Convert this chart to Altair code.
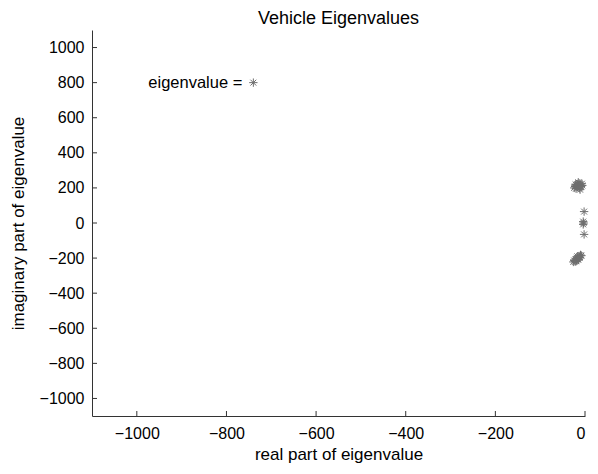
import altair as alt
import pandas as pd

# Eigenvalue data (real, imaginary parts)
re_vals = [
    -24, -22, -20, -19, -17, -16, -14, -13, -12, -10, -9, -7, -6, -15, -21, -11,
    -26, -24, -22, -21, -19, -18, -16, -14, -13, -11, -10, -8, -20, -15, -12, -17,
    -2, -4, -3, -4, -2,
]
im_vals = [
    200, 208, 196, 214, 222, 204, 212, 226, 198, 218, 208, 224, 214, 232, 220, 190,
    -222, -214, -220, -206, -212, -198, -204, -196, -188, -194, -182, -186, -218, -210, -200, -190,
    65, 8, 0, -8, -65,
]

legend_re = [-740]
legend_im = [800]
legend_text = ["eigenvalue ="]

x_ticks = [-1000, -800, -600, -400, -200, 0]
y_ticks = [-1000, -800, -600, -400, -200, 0, 200, 400, 600, 800, 1000]

df = pd.DataFrame({"re": re_vals, "im": im_vals})
leg = pd.DataFrame({"re": legend_re, "im": legend_im, "t": legend_text})
xt = pd.DataFrame({"v": x_ticks})
yt = pd.DataFrame({"v": y_ticks})

FONT = "Liberation Sans"
STAR = "M-1,0L1,0M0,-1L0,1M-0.7,-0.7L0.7,0.7M-0.7,0.7L0.7,-0.7"
GRAY = "#6e6e6e"
W, H = 493, 386

xs = alt.Scale(domain=[-1100, 0], nice=False, zero=False)
ys = alt.Scale(domain=[-1100, 1100], nice=False, zero=False)

x_axis = alt.Axis(values=x_ticks, title="real part of eigenvalue", grid=False,
                  tickSize=0, labelPadding=9, titlePadding=5, format="d", labelOverlap=False)
y_axis = alt.Axis(values=y_ticks, title="imaginary part of eigenvalue", grid=False,
                  tickSize=0, labelPadding=8, titlePadding=12, format="d", labelOverlap=False)

X = lambda f: alt.X(f, scale=xs, axis=x_axis)
Y = lambda f: alt.Y(f, scale=ys, axis=y_axis)

pts = alt.Chart(df).mark_point(shape=STAR, filled=False, size=70, strokeWidth=1, color=GRAY, opacity=1).encode(
    x=X("re:Q"), y=Y("im:Q"),
)

leg_pt = alt.Chart(leg).mark_point(shape=STAR, filled=False, size=70, strokeWidth=1, color=GRAY, opacity=1).encode(
    x=X("re:Q"), y=Y("im:Q")
)
leg_txt = alt.Chart(leg).mark_text(align="right", baseline="middle", dx=-11, font=FONT, fontSize=16.5, color="black").encode(
    x=X("re:Q"), y=Y("im:Q"), text="t:N"
)

xtick = alt.Chart(xt).mark_rule(color="#333333", strokeWidth=1).encode(
    x=X("v:Q"), y=alt.value(H), y2=alt.value(H - 5)
)
ytick = alt.Chart(yt).mark_rule(color="#333333", strokeWidth=1).encode(
    y=Y("v:Q"), x=alt.value(0), x2=alt.value(5)
)

chart = alt.layer(pts, leg_pt, leg_txt, xtick, ytick).properties(
    width=W, height=H,
    title=alt.TitleParams("Vehicle Eigenvalues", font=FONT, fontSize=18, fontWeight="normal", color="black", offset=2),
    autosize=alt.AutoSizeParams(type="none"),
    padding={"left": 84, "top": 22, "right": 5, "bottom": 49},
).configure_view(stroke=None).configure_axis(
    domainColor="#333333", labelFont=FONT, titleFont=FONT, labelFontSize=16, titleFontSize=17,
    labelColor="black", titleColor="black", titleFontWeight="normal", labelOverlap=False,
)

chart.save("out.html", embed_options={"renderer": "svg", "actions": False})
